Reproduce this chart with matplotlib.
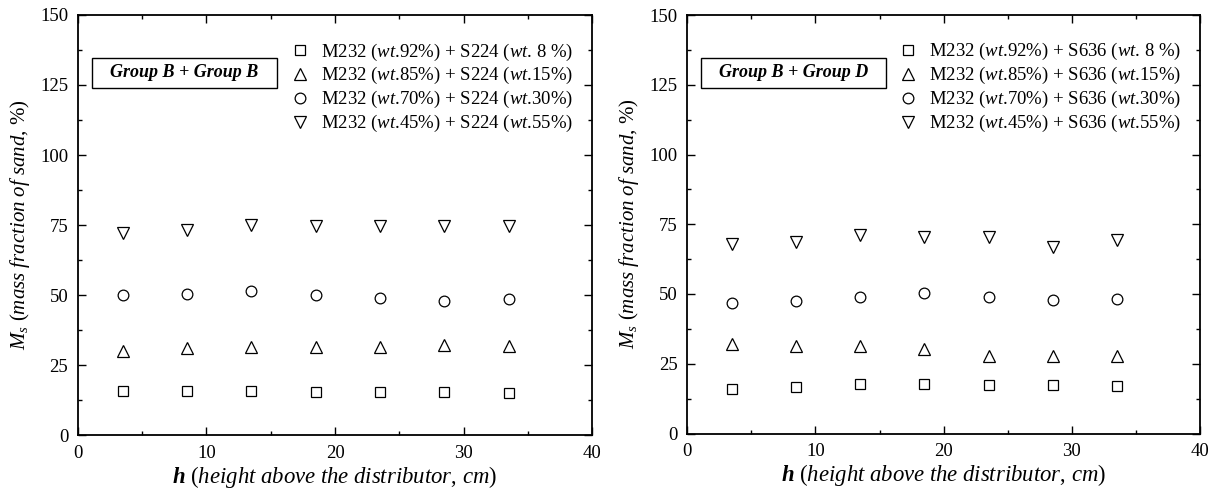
import matplotlib
matplotlib.use("Agg")
import matplotlib.pyplot as plt
from matplotlib.patches import Rectangle
from matplotlib.ticker import MultipleLocator

plt.rcParams['font.family'] = ['Liberation Serif', 'DejaVu Serif']
plt.rcParams['mathtext.fontset'] = 'custom'
plt.rcParams['mathtext.rm'] = 'Liberation Serif'
plt.rcParams['mathtext.it'] = 'Liberation Serif:italic'
plt.rcParams['mathtext.bf'] = 'Liberation Serif:bold'
plt.rcParams['mathtext.bfit'] = 'Liberation Serif:bold:italic'

# Sampling heights above the distributor (cm)
heights = [3.5, 8.5, 13.5, 18.5, 23.5, 28.5, 33.5]

# Mass fraction of sand (%) for Group B + Group B (M232 + S224)
bb_08 = [15.8, 15.7, 15.6, 15.5, 15.4, 15.2, 15.1]
bb_15 = [30.0, 30.9, 31.3, 31.6, 31.6, 32.1, 31.7]
bb_30 = [50.1, 50.5, 51.5, 50.1, 49.0, 47.8, 48.4]
bb_55 = [72.0, 73.3, 75.0, 74.8, 74.5, 74.5, 74.6]

# Mass fraction of sand (%) for Group B + Group D (M232 + S636)
bd_08 = [16.0, 16.7, 17.7, 17.6, 17.3, 17.3, 17.2]
bd_15 = [32.0, 31.5, 31.4, 30.3, 27.8, 27.8, 27.8]
bd_30 = [46.9, 47.6, 48.8, 50.2, 49.1, 47.7, 48.2]
bd_55 = [67.8, 68.5, 71.2, 70.5, 70.5, 67.0, 69.5]

fractions = [("92", " 8 "), ("85", "15"), ("70", "30"), ("45", "55")]
markers = ['s', '^', 'o', 'v']
marker_sizes = [6.5, 8.6, 7.7, 8.6]

panels = [
    ("S224", "Group B + Group B", [bb_08, bb_15, bb_30, bb_55]),
    ("S636", "Group B + Group D", [bd_08, bd_15, bd_30, bd_55]),
]

fig = plt.figure(figsize=(12.24, 5.0), dpi=100)
rects = [[0.0637, 0.13, 0.420, 0.840], [0.5615, 0.133, 0.419, 0.837]]

for rect, (sand, group, series) in zip(rects, panels):
    ax = fig.add_axes(rect)
    for vals, mk, ms, (m, s) in zip(series, markers, marker_sizes, fractions):
        label = (r"M232 ($\mathit{wt}$.%s%%) + %s ($\mathit{wt}$.%s%%)" % (m, sand, s))
        ax.plot(heights, vals, linestyle='none', marker=mk, markersize=ms,
                markerfacecolor='none', markeredgecolor='black',
                markeredgewidth=0.9, label=label)
    ax.set_xlim(0, 40)
    ax.set_ylim(0, 150)
    ax.xaxis.set_major_locator(MultipleLocator(10))
    ax.xaxis.set_minor_locator(MultipleLocator(5))
    ax.yaxis.set_major_locator(MultipleLocator(25))
    ax.yaxis.set_minor_locator(MultipleLocator(12.5))
    ax.tick_params(which='both', direction='in', top=True, right=True,
                   labelsize=13.5, width=1.0)
    ax.tick_params(which='major', length=6)
    ax.tick_params(which='minor', length=3)
    ax.tick_params(axis='x', which='major', pad=7)
    ax.tick_params(axis='y', which='major', pad=7)
    for sp in ax.spines.values():
        sp.set_linewidth(1.3)
    ax.set_xlabel(r"$\mathbfit{h}$ ($\mathit{height\ above\ the\ distributor}$, $\mathit{cm}$)",
                  fontsize=16.4, labelpad=1.5)
    ax.set_ylabel(r"$M_s$ ($\mathit{mass\ fraction\ of\ sand}$, %)",
                  fontsize=15, labelpad=6)
    ax.legend(loc='upper right', bbox_to_anchor=(0.978, 0.955), frameon=False,
              fontsize=13.5, handletextpad=0.62, labelspacing=0.15,
              handlelength=1.0, borderaxespad=0.0)
    ax.add_patch(Rectangle((0.027, 0.826), 0.36, 0.072, transform=ax.transAxes,
                           facecolor='white', edgecolor='black', linewidth=1.0,
                           zorder=3))
    ax.text(0.207, 0.862, group, transform=ax.transAxes, ha='center', va='center',
            fontsize=13, fontweight='bold', fontstyle='italic', zorder=4)

fig.savefig("out.png", dpi=100)
